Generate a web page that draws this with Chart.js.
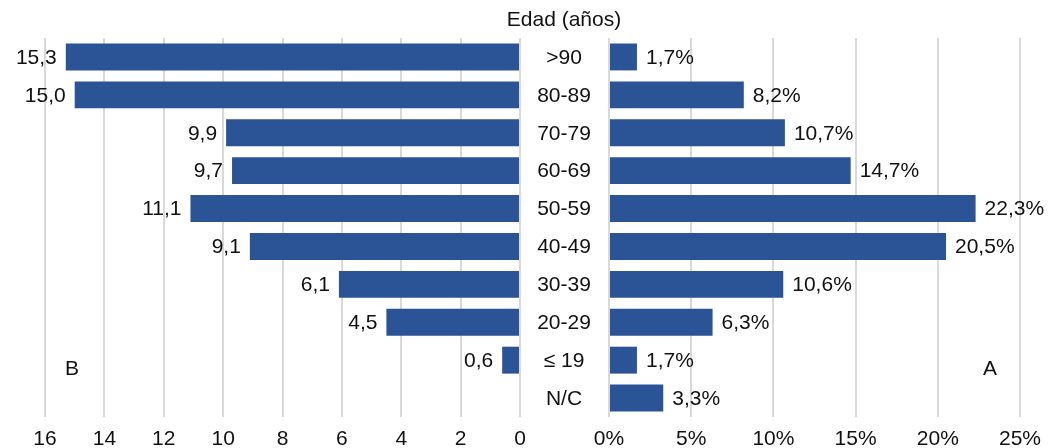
<!DOCTYPE html>
<html>
<head>
<meta charset="utf-8">
<script src="https://cdn.jsdelivr.net/npm/chart.js@4"></script>
<style>
  body { margin: 0; background: #fff; }
  #wrap { position: relative; width: 1051px; height: 448px; font-family: "Liberation Sans", Arial, sans-serif; }
  canvas { position: absolute; left: 0; top: 0; }
  .txt { position: absolute; font-size: 21px; color: #111; transform: translate(-50%, -50%); white-space: nowrap; }
</style>
</head>
<body>
<div id="wrap">
  <canvas id="chartB" width="1051" height="448"></canvas>
  <canvas id="chartA" width="1051" height="448"></canvas>
  <div class="txt" style="left:564px; top:19px;">Edad (años)</div>
  <div class="txt" style="left:72px; top:368px;">B</div>
  <div class="txt" style="left:990px; top:368px;">A</div>
</div>
<script>
// categorias (grupos de edad)
const edades = [">90", "80-89", "70-79", "60-69", "50-59", "40-49", "30-39", "20-29", "\u2264 19", "N/C"];
// serie B (izquierda)
const valoresB = [15.3, 15.0, 9.9, 9.7, 11.1, 9.1, 6.1, 4.5, 0.6, null];
// serie A (derecha, %)
const valoresA = [1.7, 8.2, 10.7, 14.7, 22.3, 20.5, 10.6, 6.3, 1.7, 3.3];

const azul = "#2B5496";
const gris = "#d9d9d9";
const letra = "21px 'Liberation Sans', Arial, sans-serif";

function coma(v) {
    return v.toFixed(1).replace(".", ",");
}

// etiquetas de valor junto a las barras (y las edades en el centro)
function etiquetas(lado, sufijo) {
    return {
        id: "etiquetas" + lado,
        afterDatasetsDraw(chart) {
            const ctx = chart.ctx;
            const meta = chart.getDatasetMeta(0);
            const vals = chart.data.datasets[0].data;
            ctx.save();
            ctx.font = letra;
            ctx.fillStyle = "#111";
            ctx.textBaseline = "middle";
            meta.data.forEach((bar, i) => {
                if (lado == "der") {
                    // nombre de la categoria entre los dos graficos
                    ctx.textAlign = "center";
                    ctx.fillText(chart.data.labels[i], 564, bar.y + 1);
                }
                if (vals[i] == null) return;
                if (lado == "izq") {
                    ctx.textAlign = "right";
                    ctx.fillText(coma(vals[i]) + sufijo, bar.x - 9, bar.y + 1);
                } else {
                    ctx.textAlign = "left";
                    ctx.fillText(coma(vals[i]) + sufijo, bar.x + 9, bar.y + 1);
                }
            });
            ctx.restore();
        }
    };
}

Chart.defaults.font.family = "'Liberation Sans', Arial, sans-serif";
Chart.defaults.font.size = 21;
Chart.defaults.color = "#111";

new Chart("chartB", {
    type: "bar",
    data: {
        labels: edades,
        datasets: [{ data: valoresB, backgroundColor: azul, categoryPercentage: 1, barPercentage: 0.71 }]
    },
    options: {
        indexAxis: "y",
        responsive: false,
        animation: false,
        devicePixelRatio: 1,
        layout: { padding: { left: 45, right: 531, top: 38, bottom: 0 } },
        plugins: { legend: { display: false }, tooltip: { enabled: false } },
        scales: {
            x: {
                reverse: true,
                min: 0,
                max: 16,
                ticks: { stepSize: 2, padding: 10 },
                grid: { color: gris, lineWidth: 2, drawTicks: false },
                border: { display: false },
                afterFit: s => { s.height = 31; }
            },
            y: { display: false }
        }
    },
    plugins: [etiquetas("izq", "")]
});

new Chart("chartA", {
    type: "bar",
    data: {
        labels: edades,
        datasets: [{ data: valoresA, backgroundColor: azul, categoryPercentage: 1, barPercentage: 0.71 }]
    },
    options: {
        indexAxis: "y",
        responsive: false,
        animation: false,
        devicePixelRatio: 1,
        layout: { padding: { left: 609, right: 29, top: 38, bottom: 0 } },
        plugins: { legend: { display: false }, tooltip: { enabled: false } },
        scales: {
            x: {
                min: 0,
                max: 25,
                ticks: { stepSize: 5, padding: 10, callback: v => v + "%" },
                grid: { color: gris, lineWidth: 2, drawTicks: false },
                border: { display: false },
                afterFit: s => { s.height = 31; }
            },
            y: { display: false }
        }
    },
    plugins: [etiquetas("der", "%")]
});
</script>
</body>
</html>
